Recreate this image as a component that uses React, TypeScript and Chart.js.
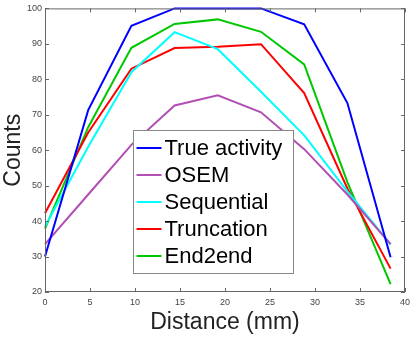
import React, { useEffect, useRef } from "react";
import { Chart, registerables } from "chart.js";

Chart.register(...registerables);

const distances = [0, 4.8, 9.6, 14.4, 19.2, 24, 28.8, 33.6, 38.4];
const trueActivity = [30, 71.3, 95.1, 100, 100, 100, 95.5, 73.3, 29.8];
const osem = [33.5, 47.5, 61.5, 72.6, 75.5, 70.7, 60.3, 47.5, 33.5];
const sequential = [38.5, 61, 82, 93.3, 88.5, 76.5, 64.2, 48.4, 33.4];
const truncation = [42.2, 65, 83, 88.8, 89.2, 89.9, 76.1, 49.2, 26.6];
const end2end = [37.9, 66.5, 88.9, 95.6, 96.9, 93.4, 84.2, 51, 22.2];

const seriesNames = ["True activity", "OSEM", "Sequential", "Truncation", "End2end"];
const seriesValues = [trueActivity, osem, sequential, truncation, end2end];
const seriesColors = ["#0000ff", "#b24fb2", "#00ffff", "#ff0000", "#00c800"];

const xTickValues = [0, 5, 10, 15, 20, 25, 30, 35, 40];
const yTickValues = [20, 30, 40, 50, 60, 70, 80, 90, 100];

const FONT = "'Liberation Sans', Arial, Helvetica, sans-serif";

const boxPlugin = {
  id: "boxAndTicks",
  afterDraw(chart: any) {
    const { ctx, chartArea: a, scales } = chart;
    ctx.save();
    ctx.strokeStyle = "#666666";
    ctx.lineWidth = 1;
    ctx.strokeRect(a.left + 0.5, a.top + 0.5, a.right - a.left - 1, a.bottom - a.top - 1);
    const L = 4;
    ctx.beginPath();
    for (const v of xTickValues) {
      const px = Math.round(scales.x.getPixelForValue(v)) + 0.5;
      ctx.moveTo(px, a.bottom);
      ctx.lineTo(px, a.bottom - L);
      ctx.moveTo(px, a.top);
      ctx.lineTo(px, a.top + L);
    }
    for (const v of yTickValues) {
      const py = Math.round(scales.y.getPixelForValue(v)) + 0.5;
      ctx.moveTo(a.left, py);
      ctx.lineTo(a.left + L, py);
      ctx.moveTo(a.right, py);
      ctx.lineTo(a.right - L, py);
    }
    ctx.stroke();

    // legend
    const bx = 133.5, by = 130.5, bw = 160, bh = 143;
    ctx.fillStyle = "#ffffff";
    ctx.fillRect(bx, by, bw, bh);
    ctx.strokeStyle = "#888888";
    ctx.strokeRect(bx, by, bw, bh);
    ctx.font = `22px ${FONT}`;
    ctx.textBaseline = "middle";
    ctx.textAlign = "left";
    chart.data.datasets.forEach((ds: any, i: number) => {
      const y = by + 17.5 + i * 27;
      ctx.strokeStyle = ds.borderColor;
      ctx.lineWidth = 2;
      ctx.beginPath();
      ctx.moveTo(bx + 3, y);
      ctx.lineTo(bx + 28, y);
      ctx.stroke();
      ctx.fillStyle = "#000000";
      ctx.fillText(ds.label, bx + 31, y + 1);
    });
    ctx.restore();
  },
};

export default function App() {
  const ref = useRef<HTMLCanvasElement | null>(null);
  useEffect(() => {
    if (!ref.current) return;
    const chart = new Chart(ref.current, {
      type: "line",
      data: {
        datasets: seriesNames.map((name, i) => ({
          label: name,
          data: distances.map((d, j) => ({ x: d, y: seriesValues[i][j] })),
          borderColor: seriesColors[i],
          backgroundColor: seriesColors[i],
          borderWidth: 2,
          pointRadius: 0,
          tension: 0,
          clip: 2,
        })),
      },
      options: {
        animation: false,
        responsive: false,
        layout: { padding: { top: 8, right: 6, left: 0, bottom: 0 } },
        plugins: { legend: { display: false }, tooltip: { enabled: false } },
        scales: {
          x: {
            type: "linear",
            min: 0,
            max: 40,
            afterBuildTicks: (s: any) => {
              s.ticks = xTickValues.map((v) => ({ value: v }));
            },
            afterFit: (s: any) => {
              s.height = 48;
            },
            grid: { display: false, drawTicks: false },
            border: { display: false },
            ticks: { padding: 5, color: "#444444", font: { size: 9, family: FONT } },
            title: {
              display: true,
              text: "Distance (mm)",
              color: "#222222",
              font: { size: 23, family: FONT },
              padding: { top: 0, bottom: 4 },
            },
          },
          y: {
            type: "linear",
            min: 20,
            max: 100,
            afterBuildTicks: (s: any) => {
              s.ticks = yTickValues.map((v) => ({ value: v }));
            },
            afterFit: (s: any) => {
              s.width = 45;
            },
            grid: { display: false, drawTicks: false },
            border: { display: false },
            ticks: { padding: 3, color: "#444444", font: { size: 9, family: FONT } },
            title: {
              display: true,
              text: "Counts",
              color: "#222222",
              font: { size: 23, family: FONT },
              padding: { top: 0, bottom: 0 },
            },
          },
        },
      },
      plugins: [boxPlugin],
    });
    return () => chart.destroy();
  }, []);
  return (
    <div style={{ position: "fixed", left: 0, top: 0, width: 415, height: 340, background: "#fff" }}>
      <canvas ref={ref} width={415} height={340} style={{ width: 415, height: 340 }} />
    </div>
  );
}
